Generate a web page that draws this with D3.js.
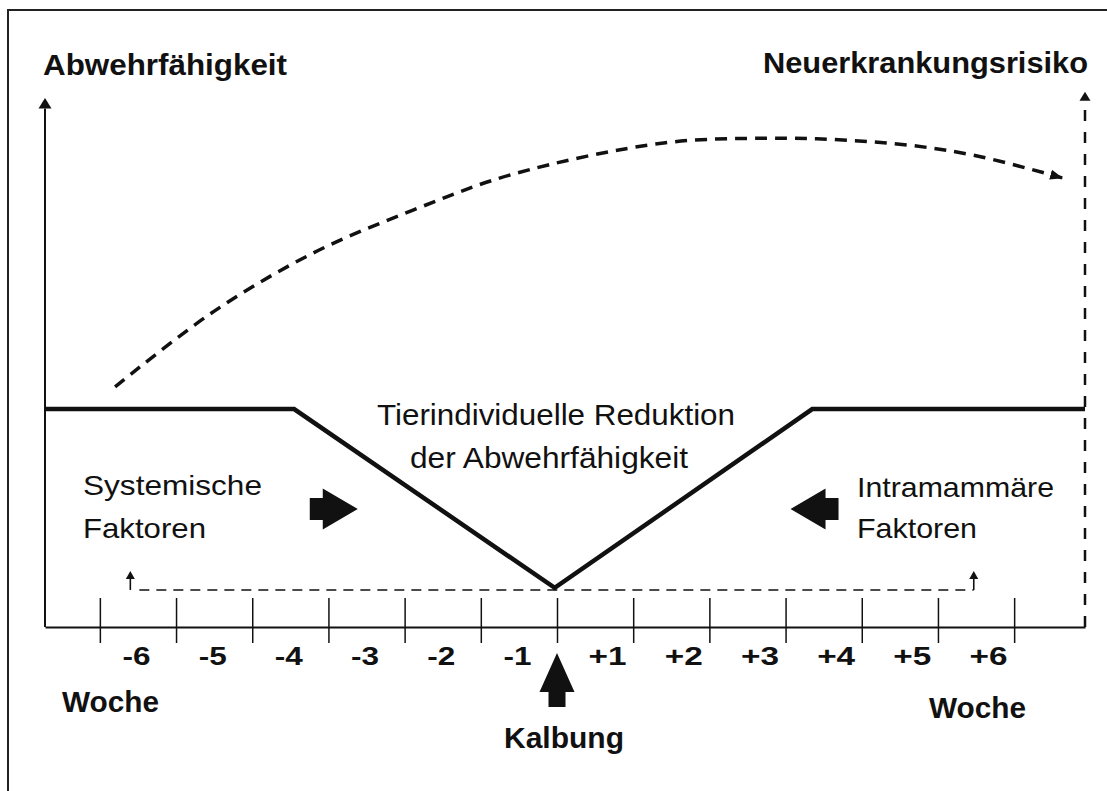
<!DOCTYPE html>
<html>
<head>
<meta charset="utf-8">
<script src="https://cdn.jsdelivr.net/npm/d3@7"></script>
<style>
  body { margin: 0; background: #fff; overflow: hidden; }
  svg { display: block; }
  text { font-family: "Liberation Sans", Arial, Helvetica, sans-serif; fill: #111; }
</style>
</head>
<body>
<svg id="chart" width="1107" height="791"></svg>
<script>
// weeks around calving (0), tick marks and their labels
var weekTicks = [-6, -5, -4, -3, -2, -1, 0, 1, 2, 3, 4, 5, 6];
var labelWeeks = [-5.5, -4.5, -3.5, -2.5, -1.5, -0.5, 0.5, 1.5, 2.5, 3.5, 4.5, 5.5];
var weekLabels = ["-6", "-5", "-4", "-3", "-2", "-1", "+1", "+2", "+3", "+4", "+5", "+6"];

// Abwehrfähigkeit (solid line)
var defenceWeeks = [-6.72, -3.45, -0.03, 3.35, 6.93];
var defenceLevels = [41.2, 41.2, 7.4, 41.2, 41.2];

// Neuerkrankungsrisiko (dashed curve)
var riskWeeks = [-5.80, -4.52, -3.20, -1.89, -0.58, 1.40, 2.78, 3.70, 4.61, 5.53, 6.63];
var riskLevels = [45.4, 59.5, 70.7, 78.8, 85.6, 91.5, 92.4, 92.1, 91.1, 89.0, 84.9];

// dashed baseline of the factors, with a small arrow at each end
var factorWeeks = [-5.60, 5.47];
var factorLevels = [7.0, 10.6];

// the two fat arrows (systemic from left, intramammary from right)
var pushWeeks = [-2.93, 3.38];
var pushLevels = [22.3, 22.3];
var pushDirs = [1, -1];

function drawChart() {
  var svg = d3.select("#chart");

  var x = d3.scaleLinear().domain([-6.72, 6.93]).range([45, 1085]),
    y = d3.scaleLinear().domain([0, 100]).range([627, 98]);

  // frame: only its top and left edge fall inside the picture
  svg.append("path")
    .attr("d", "M1107,10L8,10L8,791")
    .attr("fill", "none")
    .attr("stroke", "#222")
    .attr("stroke-width", 2);

  svg.append("defs").append("marker")
    .attr("id", "riskHead")
    .attr("markerUnits", "userSpaceOnUse")
    .attr("viewBox", "0 -6 13 12")
    .attr("refX", 12).attr("refY", 0)
    .attr("markerWidth", 13).attr("markerHeight", 12)
    .attr("orient", "auto")
    .append("path")
    .attr("d", "M0,-5L13,0L0,5Z")
    .attr("fill", "#111");

  // x axis with ticks crossing the line
  var xAxis = d3.axisBottom(x)
    .tickValues(weekTicks)
    .tickSize(16)
    .tickSizeOuter(0)
    .tickFormat("");

  var gx = svg.append("g")
    .attr("transform", "translate(0," + y(0) + ")")
    .call(xAxis);
  gx.select(".domain").attr("stroke", "#111").attr("stroke-width", 2);
  gx.selectAll(".tick line")
    .attr("y1", -29)
    .attr("stroke", "#111")
    .attr("stroke-width", 1.5);

  var labelAxis = d3.axisBottom(x)
    .tickValues(labelWeeks)
    .tickSize(0)
    .tickFormat(function (d, i) {
      return weekLabels[i];
    });

  var gl = svg.append("g")
    .attr("transform", "translate(0," + y(0) + ")")
    .call(labelAxis);
  gl.select(".domain").remove();
  gl.selectAll(".tick text")
    .attr("y", 38)
    .attr("dy", 0)
    .attr("dx", function (d, i) {
      return weekLabels[i].charAt(0) === "+" ? 12 : -2;
    })
    .attr("textLength", function (d, i) {
      return weekLabels[i].charAt(0) === "+" ? 38 : 28;
    })
    .attr("lengthAdjust", "spacingAndGlyphs")
    .style("font-family", "'Liberation Sans', Arial, sans-serif")
    .style("font-weight", "bold")
    .style("font-size", "26px")
    .attr("fill", "#111");

  // left axis with arrow
  svg.append("line")
    .attr("x1", x(-6.72)).attr("x2", x(-6.72))
    .attr("y1", y(0)).attr("y2", y(98))
    .attr("stroke", "#111").attr("stroke-width", 2);
  svg.append("path")
    .attr("d", d3.line()([[x(-6.72) - 6.5, y(98)], [x(-6.72), y(100)], [x(-6.72) + 6.5, y(98)]]) + "Z")
    .attr("fill", "#111");

  // right axis, dashed, with arrow
  svg.append("line")
    .attr("x1", x(6.93)).attr("x2", x(6.93))
    .attr("y1", y(0)).attr("y2", y(99.5))
    .attr("stroke", "#111").attr("stroke-width", 2.5)
    .attr("stroke-dasharray", "11,11");
  svg.append("path")
    .attr("d", d3.line()([[x(6.93) - 5.5, y(99.5)], [x(6.93), y(101.2)], [x(6.93) + 5.5, y(99.5)]]) + "Z")
    .attr("fill", "#111");

  // risk curve
  var riskData = riskWeeks.map(function (w, i) {
    return [w, riskLevels[i]];
  });
  var riskLine = d3.line()
    .curve(d3.curveCatmullRom.alpha(0.5))
    .x(function (d) { return x(d[0]); })
    .y(function (d) { return y(d[1]); });

  svg.append("path")
    .datum(riskData)
    .attr("d", riskLine)
    .attr("fill", "none")
    .attr("stroke", "#111")
    .attr("stroke-width", 3.5)
    .attr("stroke-dasharray", "12,8")
    .attr("marker-end", "url(#riskHead)");

  // defence line
  var defenceData = defenceWeeks.map(function (w, i) {
    return [w, defenceLevels[i]];
  });
  svg.append("path")
    .datum(defenceData)
    .attr("d", d3.line()
      .x(function (d) { return x(d[0]); })
      .y(function (d) { return y(d[1]); }))
    .attr("fill", "none")
    .attr("stroke", "#111")
    .attr("stroke-width", 4.5)
    .attr("stroke-linejoin", "miter");

  // factor baseline + small arrows
  svg.append("line")
    .attr("x1", x(factorWeeks[0]) + 9).attr("x2", x(factorWeeks[1]))
    .attr("y1", y(factorLevels[0])).attr("y2", y(factorLevels[0]))
    .attr("stroke", "#111").attr("stroke-width", 1.6)
    .attr("stroke-dasharray", "10,7");

  factorWeeks.forEach(function (w) {
    svg.append("line")
      .attr("x1", x(w)).attr("x2", x(w))
      .attr("y1", y(factorLevels[0])).attr("y2", y(factorLevels[1]) + 6)
      .attr("stroke", "#111").attr("stroke-width", 1.6);
    svg.append("path")
      .attr("d", d3.line()([[x(w) - 4.5, y(factorLevels[1]) + 8], [x(w), y(factorLevels[1])], [x(w) + 4.5, y(factorLevels[1]) + 8]]) + "Z")
      .attr("fill", "#111");
  });

  // fat arrows
  var fat = "M-24,-11L-11,-11L-11,-20.5L24,0L-11,20.5L-11,11L-24,11Z";
  svg.selectAll(".push")
    .data(pushWeeks)
    .enter().append("path")
    .attr("class", "push")
    .attr("d", fat)
    .attr("fill", "#111")
    .attr("transform", function (d, i) {
      return "translate(" + x(d) + "," + y(pushLevels[i]) + ") scale(" + pushDirs[i] + ",1)";
    });

  // calving arrow under the axis
  var cx = x(0);
  svg.append("path")
    .attr("d", "M" + cx + ",653L" + (cx + 17.5) + ",692L" + (cx + 8.5) + ",692L" + (cx + 8.5) + ",707L" +
      (cx - 8.5) + ",707L" + (cx - 8.5) + ",692L" + (cx - 17.5) + ",692Z")
    .attr("fill", "#111");

  // texts
  var notes = [
    { t: "Abwehrfähigkeit", x: 43, y: 75, w: 244, s: 30, b: true },
    { t: "Neuerkrankungsrisiko", x: 763, y: 73, w: 325, s: 30, b: true },
    { t: "Tierindividuelle Reduktion", x: 377, y: 425, w: 358, s: 29, b: false },
    { t: "der Abwehrfähigkeit", x: 410, y: 468, w: 278, s: 29, b: false },
    { t: "Systemische", x: 83, y: 495, w: 179, s: 28, b: false },
    { t: "Faktoren", x: 83, y: 538, w: 123, s: 28, b: false },
    { t: "Intramammäre", x: 857, y: 497, w: 197, s: 28, b: false },
    { t: "Faktoren", x: 857, y: 538, w: 120, s: 28, b: false },
    { t: "Woche", x: 62, y: 712, w: 97, s: 30, b: true },
    { t: "Woche", x: 929, y: 718, w: 97, s: 30, b: true },
    { t: "Kalbung", x: 504, y: 748, w: 120, s: 30, b: true }
  ];

  svg.selectAll(".note")
    .data(notes)
    .enter().append("text")
    .attr("class", "note")
    .attr("x", function (d) { return d.x; })
    .attr("y", function (d) { return d.y; })
    .attr("textLength", function (d) { return d.w; })
    .attr("lengthAdjust", "spacingAndGlyphs")
    .style("font-size", function (d) { return d.s + "px"; })
    .style("font-weight", function (d) { return d.b ? "bold" : "normal"; })
    .text(function (d) { return d.t; });
}

drawChart();
</script>
</body>
</html>
